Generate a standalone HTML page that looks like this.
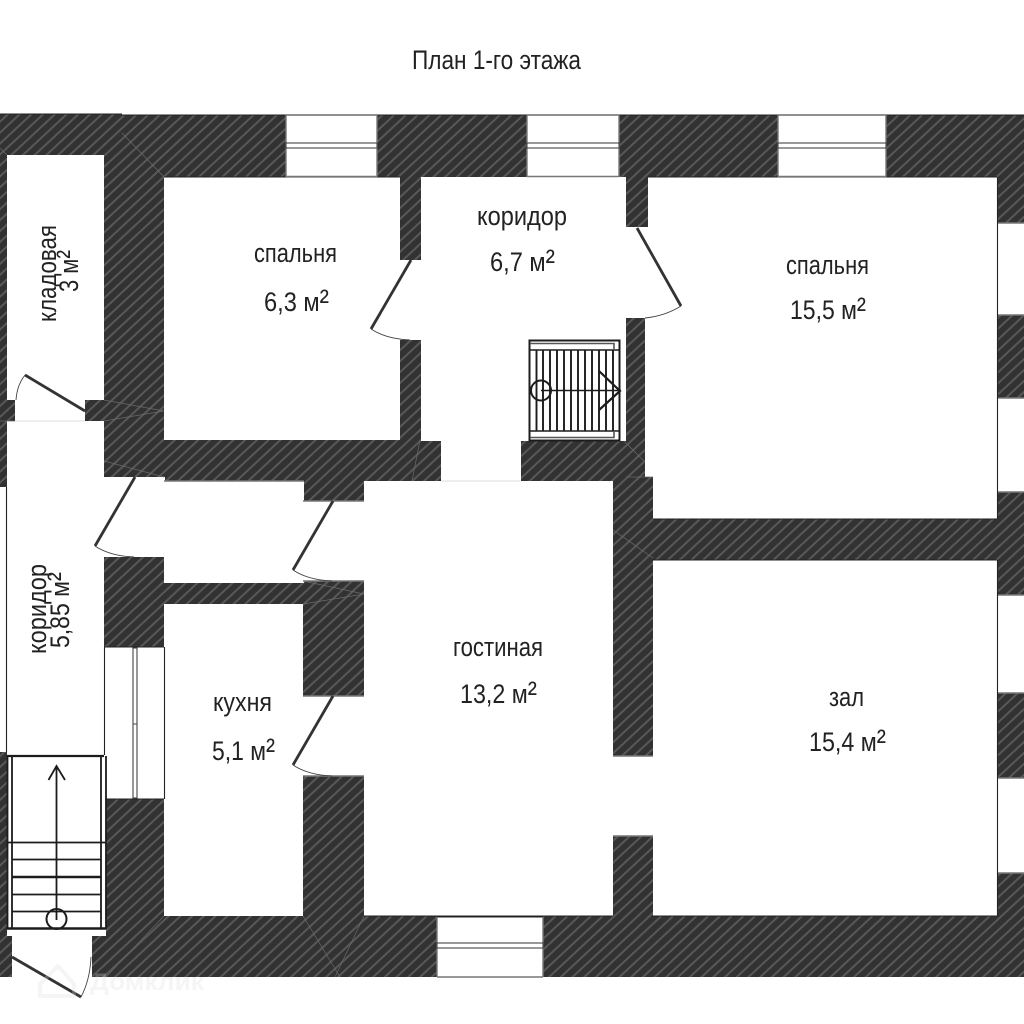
<!DOCTYPE html>
<html>
<head>
<meta charset="utf-8">
<style>
html,body{margin:0;padding:0;background:#fff;width:1024px;height:1024px;overflow:hidden}
svg{display:block}
text{font-family:"Liberation Sans","DejaVu Sans",sans-serif;fill:#222}
</style>
</head>
<body>
<svg width="1024" height="1024" viewBox="0 0 1024 1024" xmlns="http://www.w3.org/2000/svg">
<defs>
<pattern id="h" patternUnits="userSpaceOnUse" width="8" height="8" patternTransform="rotate(47)">
<rect width="8" height="8" fill="#323232"/>
<rect x="0" width="2" height="8" fill="#585858"/>
</pattern>
</defs>
<rect width="1024" height="1024" fill="#fff"/>
<!-- wall mass -->
<path d="M0 114H122V115H1024V977H0Z" fill="url(#h)"/>
<!-- rooms and openings -->
<g fill="#fff">
<rect x="7" y="155" width="97" height="245"/>
<rect x="15" y="399" width="70" height="23"/>
<rect x="7" y="421" width="97" height="335"/>
<rect x="0" y="487" width="7" height="265"/>
<rect x="103" y="477" width="62" height="80"/>
<rect x="164" y="481" width="140" height="102"/>
<rect x="303" y="501" width="62" height="80"/>
<rect x="164" y="604" width="139" height="312"/>
<rect x="302" y="696" width="62" height="80"/>
<rect x="364" y="481" width="249" height="435"/>
<rect x="164" y="177" width="236" height="263"/>
<rect x="399" y="260" width="23" height="80"/>
<rect x="421" y="177" width="205" height="264"/>
<rect x="441" y="440" width="80" height="41"/>
<rect x="620" y="318" width="5" height="123"/>
<rect x="625" y="227" width="24" height="91"/>
<rect x="648" y="177" width="349" height="300"/>
<rect x="645" y="318" width="4" height="159"/>
<rect x="653" y="476" width="344" height="43"/>
<rect x="653" y="560" width="344" height="356"/>
<rect x="612" y="756" width="42" height="80"/>
<!-- top windows -->
<rect x="286" y="115" width="91" height="62"/>
<rect x="527" y="115" width="92" height="62"/>
<rect x="778" y="115" width="108" height="62"/>
<!-- bottom window -->
<rect x="437" y="917" width="106" height="60"/>
<!-- right windows -->
<rect x="997" y="223" width="27" height="92"/>
<rect x="997" y="398" width="27" height="94"/>
<rect x="997" y="595" width="27" height="98"/>
<rect x="997" y="778" width="27" height="95"/>
<!-- left window -->
<rect x="104" y="647" width="60" height="152"/>
<!-- stairs and entry -->
<rect x="7" y="755" width="99" height="181"/>
<rect x="104" y="755" width="4" height="44"/>
<rect x="12" y="935" width="80" height="50"/>
<rect x="0" y="977" width="130" height="47"/>
</g>
<!-- seam lines -->
<g stroke="#6a6a6a" stroke-width="0.7" fill="none">
<path d="M122 133L164 177M0 148L7 155M104 400L164 411M104 421L164 411M104 461L164 477M0 421L15 421"/>
<path d="M624 441L644 461M626 477H653M613 530L653 558M303 581L364 594M303 604L364 594"/>
<path d="M106 977L164 916M303 916L340 977M364 916L335 977M420 440L412 481"/>
</g>
<!-- thin edges -->
<g stroke="#222" stroke-width="1.1" fill="none">
<path d="M6.500 487V752M104.500 647V755M164.500 647V799M104 647H164M105 799H164"/>
<path d="M997.500 177V519M997.500 560V916"/>
<path d="M0 114H122M122 115H1024"/>
<path d="M653 560H997M653 519H997M364 916H613M653 916H997M648 177H997M164 177H400"/>
<path d="M437 917H543"/>
</g>
<!-- grey window and wall edges -->
<g stroke="#777" stroke-width="1.400" fill="none">
<path d="M286 176.500H377M527 176.500H619M778 176.500H886M437 977H543"/>
<path d="M286 115V177M377 115V177M527 115V177M619 115V177M778 115V177M886 115V177M437 917V977M543 917V977"/>
<path d="M998 223H1024M998 315H1024M998 398H1024M998 492H1024M998 595H1024M998 693H1024M998 778H1024M998 873H1024"/>
<path d="M164 481H304M303 501H364M364 581H303M303 696H364M303 776H364M613 756H653M613 836H653"/>
</g>
<!-- window sashes -->
<g stroke="#444" stroke-width="1.100" fill="#fff">
<rect x="286" y="143" width="91" height="5"/>
<rect x="527" y="143" width="92" height="5"/>
<rect x="778" y="143" width="108" height="5"/>
<rect x="437" y="943" width="106" height="5"/>
<rect x="133" y="648" width="4" height="150"/>
</g>
<path d="M133 724H137" stroke="#444" stroke-width="1"/>
<path d="M15 421H85M441 481H521" stroke="#ddd" stroke-width="1"/>
<!-- doors -->
<g fill="none" stroke="#333" stroke-width="2.800">
<path d="M85 411L25 375"/>
<path d="M135 477L95 546"/>
<path d="M411 260L371 329"/>
<path d="M637 228L681 306"/>
<path d="M333 501L293 570"/>
<path d="M333 696L293 765"/>
<path d="M12 957L81 997"/>
</g>
<g fill="none" stroke="#444" stroke-width="0.900">
<path d="M25 375Q17 385 16 400"/>
<path d="M95 546Q110 556 134 557"/>
<path d="M371 329Q386 339 410 340"/>
<path d="M681 306Q665 316 645 318"/>
<path d="M293 570Q308 580 332 581"/>
<path d="M293 765Q308 775 332 776"/>
<path d="M81 997Q90 980 91 957"/>
</g>
<!-- lower stair -->
<g fill="none" stroke="#1c1c1c">
<path d="M7.500 756V929M12 756V929M101 756V929M106 756V929" stroke-width="1.800"/>
<path d="M7 756H104" stroke-width="2.200"/>
<path d="M7 842.500H106M12 859.500H101M12 894.500H101M12 911.500H101" stroke-width="1.700"/>
<path d="M12 877H101M7 928.500H106" stroke-width="2.400"/>
<path d="M56.500 768V920M48.500 780L56.500 766L65 780" stroke-width="1.800"/>
<circle cx="56.500" cy="919" r="10" stroke-width="2"/>
</g>
<!-- upper stair -->
<rect x="529" y="340" width="91" height="101" fill="#fff"/>
<g fill="none" stroke="#1c1c1c">
<rect x="529.500" y="340.500" width="90" height="100" stroke-width="2"/>
<path d="M529 350H620M529 431H620" stroke-width="1.400"/>
<path d="M530 343.500H614V349M530 437.500H614V432" stroke-width="1.600" stroke="#555"/>
<path d="M536.500 350V431M543 350V431M550 350V431M557 350V431M564 350V431M571 350V431M578 350V431M585 350V431M592 350V431M599 350V431M606 350V431M613 350V431" stroke-width="1.900"/>
<path d="M541 390.500H621" stroke-width="1.600"/>
<path d="M599 371L620 391L599 410" stroke-width="2.200"/>
<circle cx="541" cy="390.500" r="10" stroke-width="2"/>
</g>
<!-- labels -->
<g font-size="27">
<text x="412" y="69" textLength="169" lengthAdjust="spacingAndGlyphs">План 1-го этажа</text>
<text x="254" y="262" textLength="83" lengthAdjust="spacingAndGlyphs">спальня</text>
<text x="264" y="311" textLength="65" lengthAdjust="spacingAndGlyphs">6,3 м<tspan font-size="32" dy="1">²</tspan></text>
<text x="477" y="225" textLength="90" lengthAdjust="spacingAndGlyphs">коридор</text>
<text x="490" y="271" textLength="65" lengthAdjust="spacingAndGlyphs">6,7 м<tspan font-size="32" dy="1">²</tspan></text>
<text x="786" y="274" textLength="83" lengthAdjust="spacingAndGlyphs">спальня</text>
<text x="790" y="319" textLength="76" lengthAdjust="spacingAndGlyphs">15,5 м<tspan font-size="32" dy="1">²</tspan></text>
<text x="453" y="656" textLength="90" lengthAdjust="spacingAndGlyphs">гостиная</text>
<text x="460" y="703" textLength="77" lengthAdjust="spacingAndGlyphs">13,2 м<tspan font-size="32" dy="1">²</tspan></text>
<text x="829" y="706" textLength="35" lengthAdjust="spacingAndGlyphs">зал</text>
<text x="809" y="751" textLength="77" lengthAdjust="spacingAndGlyphs">15,4 м<tspan font-size="32" dy="1">²</tspan></text>
<text x="213" y="711" textLength="59" lengthAdjust="spacingAndGlyphs">кухня</text>
<text x="212" y="760" textLength="63" lengthAdjust="spacingAndGlyphs">5,1 м<tspan font-size="32" dy="1">²</tspan></text>
<text transform="translate(56,322) rotate(-90)" textLength="97" lengthAdjust="spacingAndGlyphs">кладовая</text>
<text transform="translate(78,292) rotate(-90)" textLength="42" lengthAdjust="spacingAndGlyphs">3 м<tspan font-size="32" dy="1">²</tspan></text>
<text transform="translate(46,654) rotate(-90)" textLength="90" lengthAdjust="spacingAndGlyphs">коридор</text>
<text transform="translate(69,648) rotate(-90)" textLength="76" lengthAdjust="spacingAndGlyphs">5,85 м<tspan font-size="32" dy="1">²</tspan></text>
</g>
<!-- watermark -->
<g opacity="0.28">
<path d="M40 984L58 966L74 984V996H40Z" fill="none" stroke="#ddd" stroke-width="4"/>
<text x="90" y="990" font-size="24" font-weight="bold" style="fill:#ddd" textLength="114" lengthAdjust="spacingAndGlyphs">Домклик</text>
</g>
</svg>
</body>
</html>
